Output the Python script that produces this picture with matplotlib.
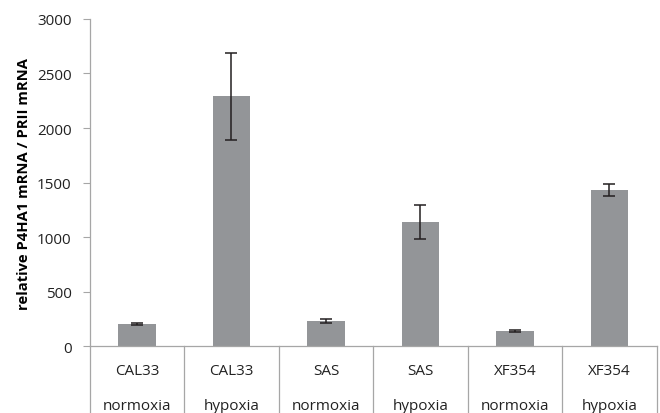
import numpy as np
import matplotlib.pyplot as plt
import matplotlib.transforms as mtransforms

cell_lines = ["CAL33", "CAL33", "SAS", "SAS", "XF354", "XF354"]
conditions = ["normoxia", "hypoxia", "normoxia", "hypoxia", "normoxia", "hypoxia"]
values = [206, 2290, 234, 1140, 142, 1430]
errors = [10, 400, 20, 158, 7, 56]

plt.rcParams['font.family'] = ['Open Sans', 'DejaVu Sans']

fig = plt.figure(figsize=(6.6, 4.14), dpi=100)
ax = fig.add_axes([0.136, 0.161, 0.859, 0.791])

x = np.arange(len(values))
ax.bar(x, values, width=0.4, color='#939598', zorder=2)
ax.errorbar(x, values, yerr=errors, fmt='none', ecolor='#231f20',
            elinewidth=1.1, capsize=4, capthick=1.1, zorder=3)

ax.set_xlim(-0.5, len(values) - 0.5)
ax.set_ylim(0, 3000)
ax.set_yticks(np.arange(0, 3001, 500))
ax.tick_params(axis='y', labelsize=11, color='#a6a6a6', length=5, width=0.8,
               pad=8, labelcolor='#222222')
ax.set_xticks([])

for side in ['top', 'right']:
    ax.spines[side].set_visible(False)
for side in ['left', 'bottom']:
    ax.spines[side].set_color('#a6a6a6')
    ax.spines[side].set_linewidth(0.9)

ax.set_ylabel('relative P4HA1 mRNA / PRII mRNA', fontsize=10.6,
              fontweight='bold')
ax.yaxis.set_label_coords(-0.103, 0.5)

# category boxes below the axis
trans = mtransforms.blended_transform_factory(ax.transData, ax.transAxes)
for b in np.arange(len(values) + 1) - 0.5:
    ax.plot([b, b], [0, -0.21], transform=trans, color='#a6a6a6',
            lw=0.9, clip_on=False)
for i, (c, cond) in enumerate(zip(cell_lines, conditions)):
    ax.text(i, -0.084, c, transform=trans, ha='center', va='baseline',
            fontsize=11, color='#222222')
    ax.text(i, -0.192, cond, transform=trans, ha='center', va='baseline',
            fontsize=11, color='#222222')

fig.savefig('out.png', dpi=100)
